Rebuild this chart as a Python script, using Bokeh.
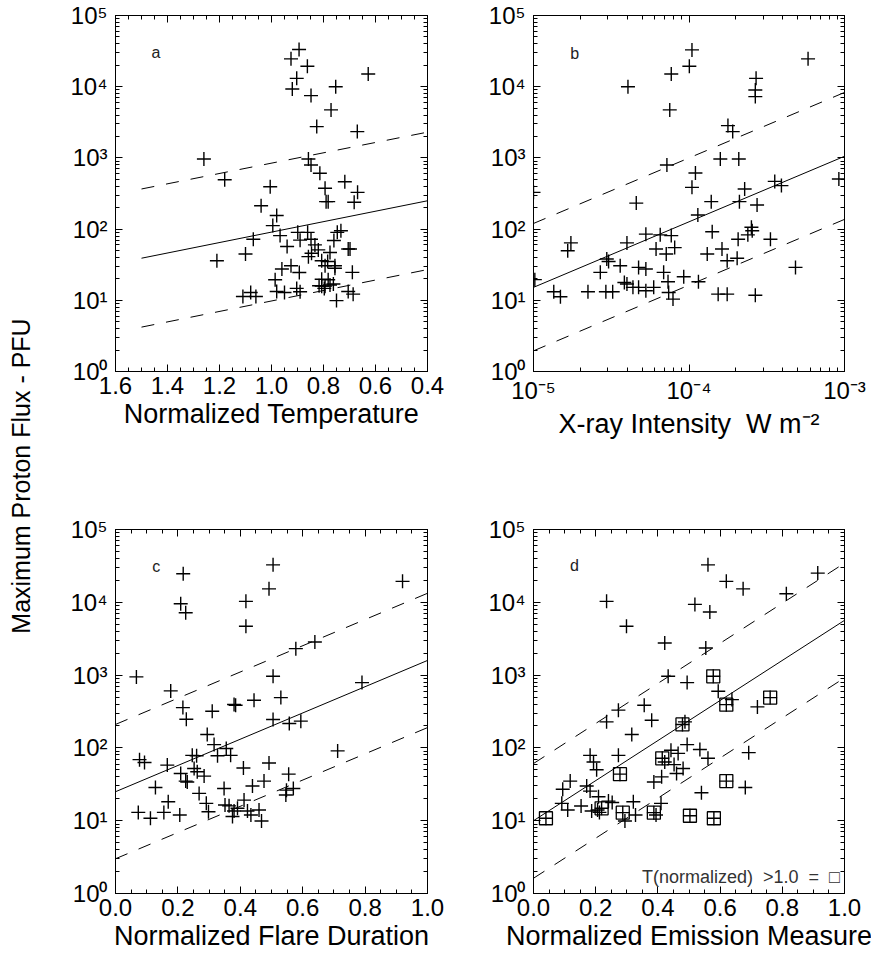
from bokeh.plotting import figure
from bokeh.layouts import row, column
from bokeh.models import (Range1d, LinearAxis, LogAxis, FixedTicker, SingleIntervalTicker,
                          CustomJSTickFormatter, NumeralTickFormatter, Label)
from bokeh.embed import file_html
from bokeh.resources import INLINE

# ---------------- data ----------------
# panel a: normalized temperature vs max proton flux
a_temp = [1.26, 1.18, 1.21, 1.11, 1.08, 1.06, 1.10, 1.07, 1.04, 1.005, 0.98, 0.995, 0.967, 0.94,
          0.986, 0.96, 0.98, 0.95, 0.925, 0.893, 0.903, 0.89, 0.899, 0.89, 0.861, 0.848, 0.858,
          0.846, 0.82, 0.833, 0.817, 0.807, 0.794, 0.797, 0.807, 0.794, 0.775, 0.784, 0.782,
          0.775, 0.756, 0.756, 0.762, 0.75, 0.76, 0.747, 0.733, 0.705, 0.698, 0.689, 0.705,
          0.686, 0.718, 0.669, 0.682, 0.67, 0.628, 0.753, 0.771, 0.826, 0.848, 0.862, 0.894,
          0.925, 0.903, 0.92, 0.858, 0.848, 0.814, 0.794, 0.79, 0.782, 0.807]
a_pfu = [966, 494, 36, 11.3, 12.9, 11.3, 44.6, 72, 213, 394, 155, 112, 81, 57,
         19.4, 27.5, 13.3, 12.9, 30.6, 24.6, 14.7, 13.2, 90, 70, 90, 72, 41,
         45.7, 51, 60, 16, 15.8, 15.8, 14.7, 36, 30.6, 47, 35, 19.4,
         16.4, 30.6, 28.2, 16.9, 9.9, 69, 90, 95, 52.5, 52.5, 24.7, 13.3,
         12.2, 463, 328, 238, 2340, 15100, 10000, 4720, 2750, 7500, 19400, 33300,
         24600, 13100, 9300, 966, 794, 608, 374, 243, 243, 19.8]
a_fit_x = [1.5, 0.4]
a_fit = [39, 250]
a_upper = [366, 2300]
a_lower = [4.2, 27]

# panel b: x-ray intensity vs max proton flux
b_xray = [1.0e-5, 1.02e-5, 1.35e-5, 1.49e-5, 1.66e-5, 1.74e-5, 2.24e-5, 2.69e-5, 2.96e-5, 3.04e-5,
          2.92e-5, 3.23e-5, 3.61e-5, 3.84e-5, 3.99e-5, 3.99e-5, 4.36e-5, 4.74e-5, 5.28e-5, 4.74e-5,
          5.28e-5, 5.93e-5, 5.28e-5, 4.05e-5, 4.58e-5, 6.14e-5, 6.53e-5, 6.87e-5, 7.14e-5, 7.33e-5,
          7.40e-5, 7.69e-5, 8.09e-5, 7.89e-5, 7.21e-5, 7.52e-5, 7.69e-5, 1.005e-4, 1.045e-4, 9.25e-5,
          1.045e-4, 1.10e-4, 1.14e-4, 1.15e-4, 1.31e-4, 1.39e-4, 1.41e-4, 1.54e-4, 1.59e-4, 1.63e-4,
          1.76e-4, 1.78e-4, 1.91e-4, 1.76e-4, 2.04e-4, 2.07e-4, 2.09e-4, 2.11e-4, 2.28e-4, 2.39e-4,
          2.52e-4, 2.55e-4, 2.70e-4, 2.67e-4, 2.67e-4, 2.74e-4, 2.67e-4, 3.56e-4, 3.93e-4, 3.34e-4,
          4.84e-4, 5.83e-4, 9.2e-4]
b_pfu = [328, 19.5, 13.2, 11.2, 49.7, 64, 13.2, 24.7, 38, 35,
         13.2, 13.2, 30.6, 17.8, 16.9, 64, 15.2, 29, 27.5, 15.2,
         13.6, 15.2, 85, 10000, 232, 52.5, 83, 24.7, 44.7, 18.2,
         12.9, 81, 55, 10.4, 796, 4720, 15100, 19400, 32900, 21.4,
         386, 614, 158, 18.2, 44.7, 243, 92, 12.2, 966, 52.5,
         12.2, 2840, 2340, 36, 39, 72, 966, 243, 366, 83,
         106, 95, 13100, 9000, 7260, 218, 11.8, 468, 408, 72,
         29, 24600, 505]
b_fit_x = [1e-5, 1e-3]
b_fit = [15.2, 1054]
b_upper = [120, 8300]
b_lower = [1.95, 137]

# panel c: normalized flare duration vs max proton flux
c_dur = [0.067, 0.077, 0.093, 0.073, 0.112, 0.128, 0.155, 0.169, 0.166, 0.177,
         0.206, 0.209, 0.216, 0.217, 0.209, 0.225, 0.227, 0.225, 0.23, 0.246,
         0.26, 0.252, 0.262, 0.268, 0.284, 0.291, 0.298, 0.294, 0.31, 0.316,
         0.327, 0.348, 0.351, 0.364, 0.355, 0.369, 0.375, 0.38, 0.38, 0.385,
         0.391, 0.41, 0.412, 0.418, 0.418, 0.423, 0.434, 0.439, 0.444, 0.46,
         0.468, 0.476, 0.492, 0.492, 0.505, 0.505, 0.505, 0.53, 0.546, 0.548,
         0.555, 0.557, 0.57, 0.594, 0.578, 0.639, 0.712, 0.79, 0.92]
c_pfu = [944, 69, 63, 13, 10.8, 28.6, 13, 18.2, 58, 607,
         12, 44.6, 358, 24700, 9570, 7190, 248, 35, 34, 79,
         78, 52, 47, 23.7, 41, 17.3, 13.3, 153, 319, 111,
         78, 27.7, 16.4, 16, 98, 79, 11.4, 13.6, 394, 385,
         14.8, 53, 19.2, 10300, 4680, 13.6, 12, 30, 452, 14,
         9.9, 35, 62, 15300, 32700, 963, 245, 491, 22.5, 26.3,
         43.6, 216, 27.7, 233, 2310, 2850, 91, 789, 19400]
c_fit_x = [0.0, 1.0]
c_fit = [25, 1590]
c_upper = [210, 13300]
c_lower = [3.0, 190]

# panel d: normalized emission measure vs max proton flux
d_em = [0.235, 0.299, 0.422, 0.433, 0.494, 0.519, 0.561, 0.567, 0.554, 0.62,
        0.674, 0.813, 0.914, 0.594, 0.638, 0.72, 0.356, 0.273, 0.235, 0.38,
        0.316, 0.487, 0.494, 0.535, 0.561, 0.692, 0.442, 0.465, 0.422, 0.452,
        0.481, 0.46, 0.412, 0.387, 0.54, 0.681, 0.182, 0.193, 0.203, 0.273,
        0.118, 0.094, 0.091, 0.11, 0.153, 0.171, 0.182, 0.209, 0.187, 0.206,
        0.212, 0.241, 0.253, 0.321, 0.294, 0.328, 0.394, 0.41]
d_pfu = [10300, 4680, 2760, 963, 789, 9360, 32700, 7350, 2360, 19400,
         15300, 13100, 25200, 600, 461, 366, 385, 330, 228, 240,
         153, 228, 111, 95, 72, 86, 93, 84, 64, 59,
         52, 44.6, 40, 34, 24.2, 28.6, 79, 64, 50, 79,
         35, 27, 17.3, 14, 15.9, 30, 25.5, 21.3, 13.6, 14,
         13, 18.6, 17.8, 18.2, 9.9, 12, 12, 17.3]
# events with normalized temperature > 1.0 (drawn as boxed crosses)
d_hot_em = [0.04, 0.219, 0.278, 0.287, 0.387, 0.414, 0.479, 0.503, 0.58, 0.578, 0.62, 0.62, 0.761]
d_hot_pfu = [10.8, 14.8, 43.6, 12.9, 12.9, 72, 210, 11.7, 10.8, 963, 393, 35, 491]
d_fit_x = [0.0, 1.0]
d_fit = [10, 5650]
d_upper = [61, 34500]
d_lower = [1.62, 916]

y_major = [1, 10, 100, 1000, 10000, 100000]
y_minor = [m * d for d in [1, 10, 100, 1000, 10000] for m in range(2, 10)]
b_major = [1e-5, 1e-4, 1e-3]
b_minor = [m * d for d in [1e-5, 1e-4] for m in range(2, 10)]

# ---------------- styling ----------------
TICK_FONT = "Liberation Sans"
TITLE_FONT = "Liberation Sans"
TICK_SIZE = "24px"
TITLE_SIZE = "27px"

pow_js = """
const sup = {"-":"\u207b","0":"\u2070","1":"\u00b9","2":"\u00b2","3":"\u00b3","4":"\u2074",
             "5":"\u2075","6":"\u2076","7":"\u2077","8":"\u2078","9":"\u2079"};
const e = Math.round(Math.log10(tick));
return "10" + String(e).split("").map(c => sup[c]).join("");
"""
blank_js = "return '';"


def style_axis(ax, show_labels, lab_standoff=8, title_standoff=6):
    ax.axis_line_color = "black"
    ax.axis_line_width = 1
    ax.major_tick_in = 7
    ax.major_tick_out = 0
    ax.minor_tick_in = 4
    ax.minor_tick_out = 0
    ax.major_tick_line_color = "black"
    ax.minor_tick_line_color = "black"
    ax.major_label_text_font = TICK_FONT
    ax.major_label_text_color = "black"
    ax.axis_label_text_font = TITLE_FONT
    ax.axis_label_text_font_style = "normal"
    ax.axis_label_text_font_size = TITLE_SIZE
    ax.axis_label_text_color = "black"
    if show_labels:
        ax.major_label_text_font_size = TICK_SIZE
        ax.major_label_standoff = lab_standoff
        ax.axis_label_standoff = title_standoff
    else:
        ax.major_label_text_font_size = "1px"
        ax.major_label_standoff = 0


def make_panel(x_range, x_log, xlabel, xticker, xformatter, fw, fh, bl, br, bt, bb,
               letter, letter_xy):
    p = figure(frame_width=fw, frame_height=fh,
               x_range=x_range, y_range=Range1d(1, 1e5),
               x_axis_type="log" if x_log else "linear", y_axis_type="log",
               output_backend="svg", toolbar_location=None,
               min_border_left=bl, min_border_right=br, min_border_top=bt, min_border_bottom=bb,
               background_fill_color="white", border_fill_color="white")
    p.xgrid.visible = False
    p.ygrid.visible = False
    p.outline_line_color = "black"
    p.outline_line_width = 1

    yt = FixedTicker(ticks=y_major, minor_ticks=y_minor)

    p.xaxis.ticker = xticker
    p.xaxis.formatter = xformatter
    p.xaxis.axis_label = xlabel
    p.yaxis.ticker = yt
    p.yaxis.formatter = CustomJSTickFormatter(code=pow_js)
    style_axis(p.xaxis[0], True, 5, 2)
    style_axis(p.yaxis[0], True, 8, 6)

    AxisCls = LogAxis if x_log else LinearAxis
    top = AxisCls(ticker=xticker, formatter=CustomJSTickFormatter(code=blank_js))
    right = LogAxis(ticker=yt, formatter=CustomJSTickFormatter(code=blank_js))
    style_axis(top, False)
    style_axis(right, False)
    p.add_layout(top, "above")
    p.add_layout(right, "right")

    p.add_layout(Label(x=letter_xy[0], y=letter_xy[1], text=letter, text_font=TITLE_FONT,
                       text_font_size="16px", text_align="center", text_baseline="middle",
                       text_color="#222222"))
    return p


def draw_fit(p, fx, fit, up, lo):
    p.line(fx, fit, line_color="black", line_width=1)
    p.line(fx, up, line_color="black", line_width=1, line_dash="13 12")
    p.line(fx, lo, line_color="black", line_width=1, line_dash="13 12")


def crosses(p, x, y):
    p.scatter(x, y, marker="cross", size=14, line_color="black", line_width=1.4)


pa = make_panel(Range1d(1.6, 0.4), False, "Normalized Temperature",
                SingleIntervalTicker(interval=0.2, num_minor_ticks=4), NumeralTickFormatter(format="0.0"),
                312, 356, 75, 35, 15, 81, "a", (1.444, 30500))
draw_fit(pa, a_fit_x, a_fit, a_upper, a_lower)
crosses(pa, a_temp, a_pfu)

pb = make_panel(Range1d(1e-5, 1e-3), True, "X-ray Intensity\u00a0 W m\u207b\u00b2",
                FixedTicker(ticks=b_major, minor_ticks=b_minor), CustomJSTickFormatter(code=pow_js),
                311, 356, 71, 27, 15, 81, "b", (1.84e-5, 29500))
draw_fit(pb, b_fit_x, b_fit, b_upper, b_lower)
crosses(pb, b_xray, b_pfu)

pc = make_panel(Range1d(0, 1), False, "Normalized Flare Duration",
                SingleIntervalTicker(interval=0.2, num_minor_ticks=4), NumeralTickFormatter(format="0.0"),
                312, 364, 75, 35, 77, 62, "c", (0.131, 31400))
draw_fit(pc, c_fit_x, c_fit, c_upper, c_lower)
crosses(pc, c_dur, c_pfu)

pd_ = make_panel(Range1d(0, 1), False, "Normalized Emission Measure",
                 SingleIntervalTicker(interval=0.2, num_minor_ticks=4), NumeralTickFormatter(format="0.0"),
                 311, 364, 71, 27, 77, 62, "d", (0.1316, 32000))
draw_fit(pd_, d_fit_x, d_fit, d_upper, d_lower)
crosses(pd_, d_em, d_pfu)
crosses(pd_, d_hot_em, d_hot_pfu)
pd_.scatter(d_hot_em, d_hot_pfu, marker="square", size=13, fill_color=None,
            line_color="black", line_width=1.3)
pd_.add_layout(Label(x=0.985, y=1.7, text="T(normalized)\u00a0 >1.0\u00a0 =\u00a0 \u25a1",
                     text_font="Liberation Sans", text_font_size="18px", text_align="right",
                     text_baseline="middle", text_color="#333333"))

# shared y title
pt = figure(width=40, height=951, x_range=Range1d(0, 1), y_range=Range1d(0, 1),
            x_axis_location=None, y_axis_location=None, output_backend="svg",
            toolbar_location=None, min_border=0, outline_line_color=None)
pt.xgrid.visible = False
pt.ygrid.visible = False
pt.add_layout(Label(x=0.5, y=0.5, text="Maximum Proton Flux - PFU", angle=90, angle_units="deg",
                    text_font=TITLE_FONT, text_font_size="25px", text_align="center",
                    text_baseline="middle", text_color="black"))

layout = row(pt, column(row(pa, pb), row(pc, pd_)))

with open("out.html", "w", encoding="utf-8") as f:
    f.write(file_html(layout, INLINE))
